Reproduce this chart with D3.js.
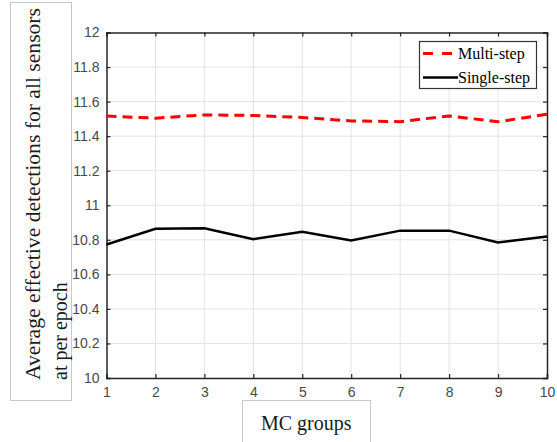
<!DOCTYPE html>
<html>
<head>
<meta charset="utf-8">
<script src="https://cdn.jsdelivr.net/npm/d3@7"></script>
<style>
  body { margin: 0; background: #fff; }
</style>
</head>
<body>
<script>
// data
let groups = [1, 2, 3, 4, 5, 6, 7, 8, 9, 10];
let multiStep = [11.517, 11.504, 11.523, 11.52, 11.508, 11.488, 11.484, 11.517, 11.483, 11.527];
let singleStep = [10.773, 10.864, 10.867, 10.804, 10.846, 10.796, 10.853, 10.853, 10.784, 10.819];
let yTicks = [10, 10.2, 10.4, 10.6, 10.8, 11, 11.2, 11.4, 11.6, 11.8, 12];

let w = 557;
let h = 442;
let pLeft = 106.5, pRight = 547, pTop = 32.5, pBottom = 378;
let serif = "Liberation Serif";
let sans = "Liberation Sans";

let svg = d3.select("body").append("svg")
  .attr("width", w)
  .attr("height", h);

let x = d3.scaleLinear().domain([1, 10]).range([pLeft, pRight]);
let y = d3.scaleLinear().domain([10, 12]).range([pBottom, pTop]);

// grid
let grid = svg.append("g").attr("id", "grid");
grid.selectAll(".gx").data(groups.slice(1, -1)).enter().append("line")
  .attr("x1", d => x(d)).attr("x2", d => x(d))
  .attr("y1", pTop).attr("y2", pBottom)
  .attr("stroke", "#e3e3e3").attr("stroke-width", 1);
grid.selectAll(".gy").data(yTicks.slice(1, -1)).enter().append("line")
  .attr("x1", pLeft).attr("x2", pRight)
  .attr("y1", d => y(d)).attr("y2", d => y(d))
  .attr("stroke", "#e3e3e3").attr("stroke-width", 1);

// axes with inward ticks on all four sides
let fmt = d => String(+d.toFixed(1));
let axB = svg.append("g").attr("transform", `translate(0,${pBottom})`)
  .call(d3.axisBottom(x).tickValues(groups).tickFormat(fmt).tickSize(-4).tickPadding(9));
let axT = svg.append("g").attr("transform", `translate(0,${pTop})`)
  .call(d3.axisTop(x).tickValues(groups).tickFormat("").tickSize(-4));
let axL = svg.append("g").attr("transform", `translate(${pLeft},0)`)
  .call(d3.axisLeft(y).tickValues(yTicks).tickFormat(fmt).tickSize(-4).tickPadding(7));
let axR = svg.append("g").attr("transform", `translate(${pRight},0)`)
  .call(d3.axisRight(y).tickValues(yTicks).tickFormat("").tickSize(-4));

[axB, axT, axL, axR].forEach(a => {
  a.attr("font-family", sans).attr("font-size", 14);
  a.select(".domain").attr("stroke", "#262626").attr("stroke-width", 1.5);
  a.selectAll(".tick line").attr("stroke", "#262626").attr("stroke-width", 1.2);
  a.selectAll("text").attr("fill", "#484848");
});

// lines
let line = arr => d3.line().x((d, i) => x(groups[i])).y(d => y(d))(arr);

svg.append("path")
  .attr("d", line(singleStep))
  .attr("fill", "none")
  .attr("stroke", "#000")
  .attr("stroke-width", 2.5);

svg.append("path")
  .attr("d", line(multiStep))
  .attr("fill", "none")
  .attr("stroke", "#ff0000")
  .attr("stroke-width", 3)
  .attr("stroke-dasharray", "10,6");

// legend
let lg = svg.append("g").attr("id", "legend")
  .attr("font-family", serif).attr("font-size", 16);
lg.append("rect")
  .attr("x", 419.5).attr("y", 41.5).attr("width", 117).attr("height", 47)
  .attr("fill", "#fff").attr("stroke", "#333").attr("stroke-width", 1.2);
lg.append("line")
  .attr("x1", 423).attr("x2", 454).attr("y1", 53.5).attr("y2", 53.5)
  .attr("stroke", "#ff0000").attr("stroke-width", 3).attr("stroke-dasharray", "10,9");
lg.append("line")
  .attr("x1", 423).attr("x2", 458).attr("y1", 77.5).attr("y2", 77.5)
  .attr("stroke", "#000").attr("stroke-width", 2.5);
lg.append("text").attr("x", 458).attr("y", 59).attr("fill", "#000").text("Multi-step");
lg.append("text").attr("x", 458).attr("y", 83).attr("fill", "#000").text("Single-step");

// y label box
svg.append("rect")
  .attr("x", 10.5).attr("y", 2.5).attr("width", 61).attr("height", 398)
  .attr("fill", "none").attr("stroke", "#c8c8c8").attr("stroke-width", 1);
let yl = svg.append("g").attr("font-family", serif).attr("font-size", 20);
yl.append("text")
  .attr("transform", "translate(40,380) rotate(-90)")
  .attr("textLength", 372).attr("lengthAdjust", "spacingAndGlyphs")
  .attr("fill", "#1a1a1a")
  .text("Average effective detections for all sensors");
yl.append("text")
  .attr("transform", "translate(67,380) rotate(-90)")
  .attr("fill", "#1a1a1a")
  .text("at per epoch");

// x label box
svg.append("rect")
  .attr("x", 242.5).attr("y", 400.5).attr("width", 128).attr("height", 45)
  .attr("fill", "none").attr("stroke", "#c8c8c8").attr("stroke-width", 1);
svg.append("text")
  .attr("x", 261).attr("y", 430)
  .attr("font-family", serif).attr("font-size", 20)
  .attr("fill", "#1a1a1a")
  .text("MC groups");
</script>
</body>
</html>
